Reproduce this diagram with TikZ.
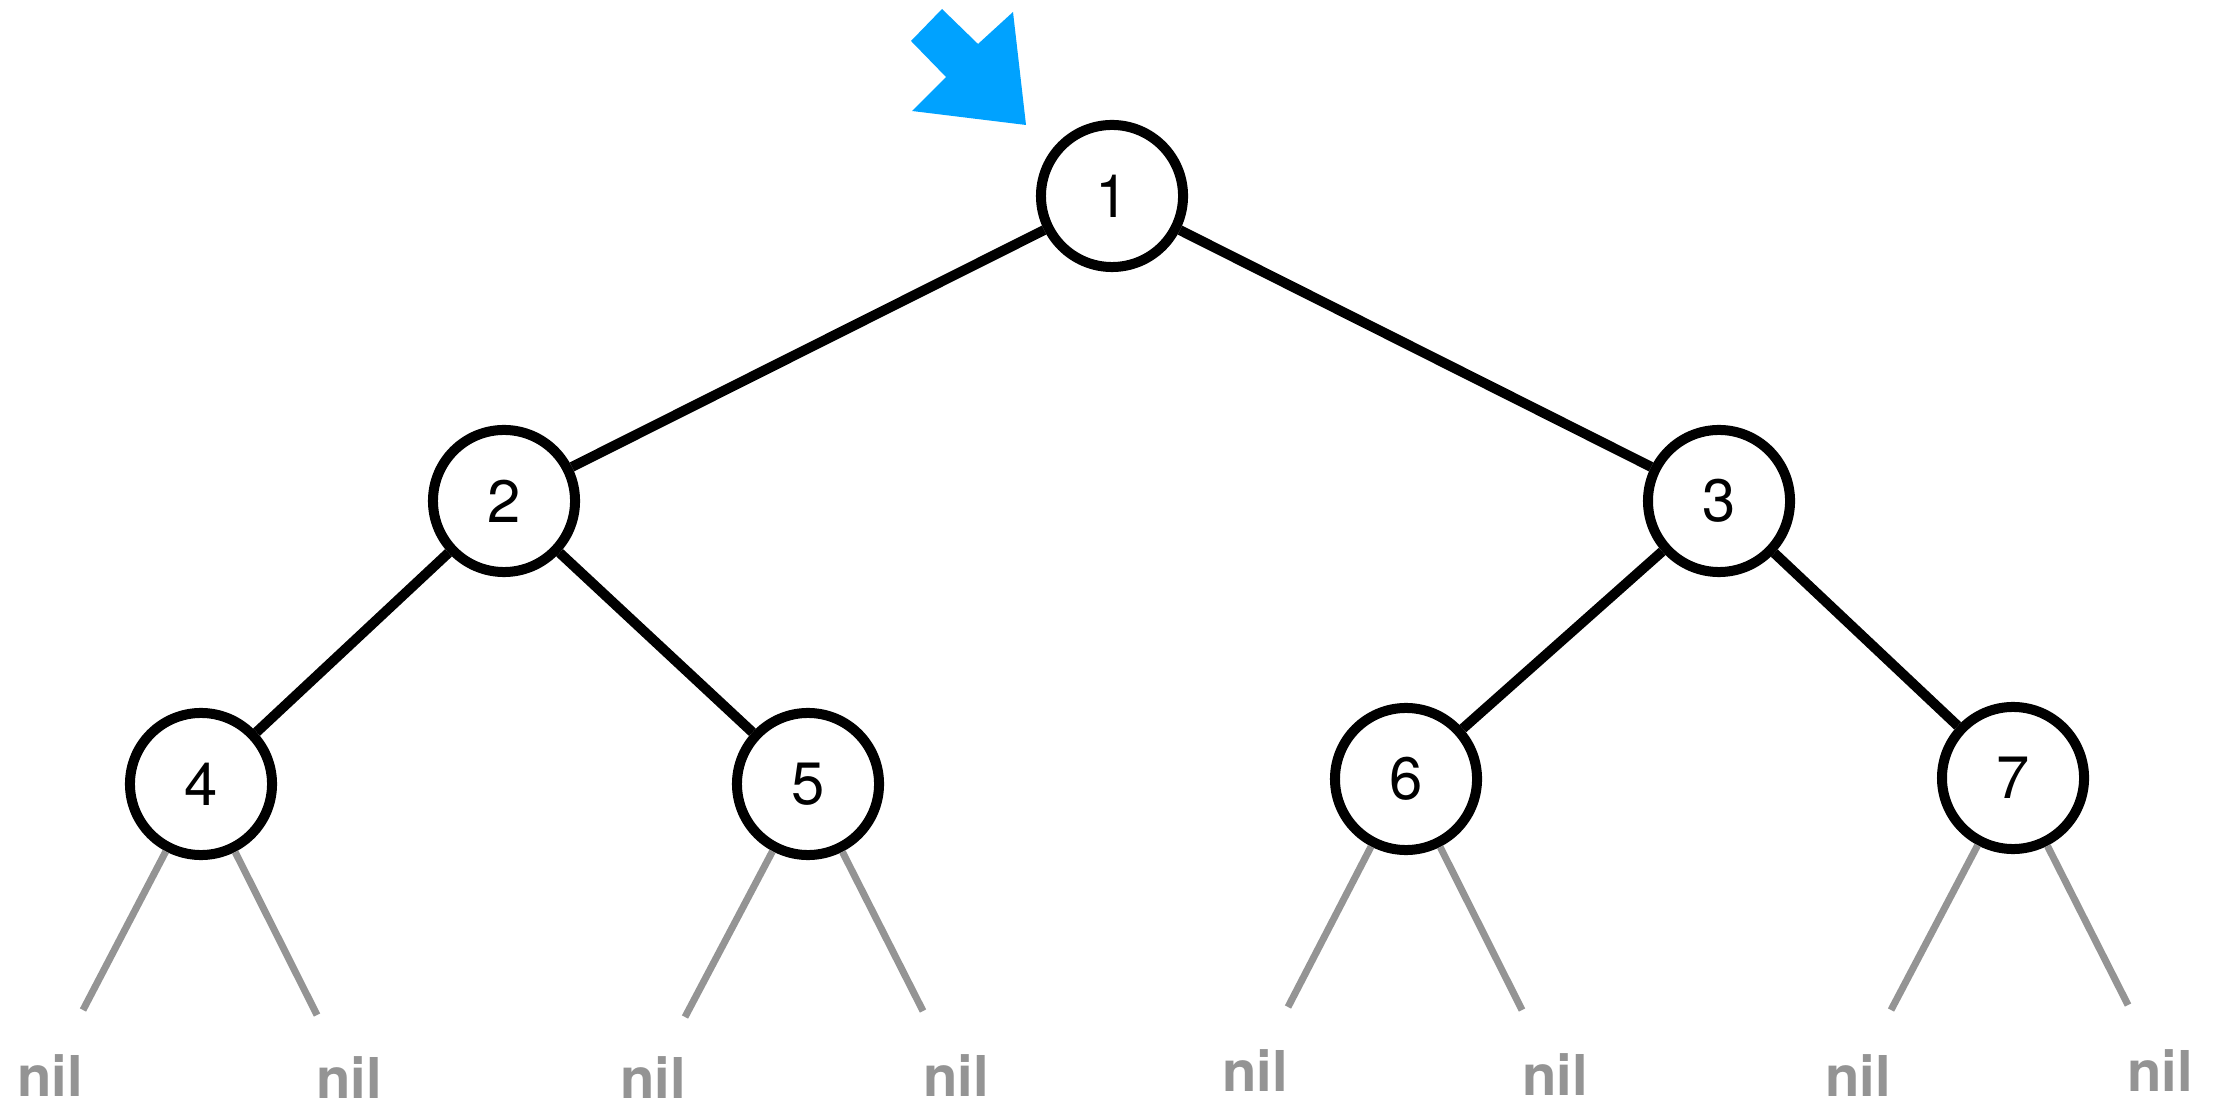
\documentclass[tikz,border=0pt]{standalone}
\usepackage{fontspec}
\setmainfont{TeX Gyre Heros}
\definecolor{pointerblue}{RGB}{0,162,255}
\definecolor{nilgray}{RGB}{148,148,148}

\begin{document}
\begin{tikzpicture}[x=0.01cm,y=-0.01cm,
  keynode/.style={circle,draw,line width=0.1cm,minimum size=1.42cm,inner sep=0pt,
    fill=white,font=\fontsize{17}{20}\selectfont},
  link/.style={line width=0.1cm},
  nillink/.style={draw=nilgray,line width=0.07cm},
  niltext/.style={inner sep=0pt,text=nilgray,font=\fontsize{16}{19}\selectfont\bfseries}]

  \useasboundingbox (0,0) rectangle (2213,1107);

  \fill[pointerblue] (942,9) -- (978,44) -- (1013,12) -- (1026,125)
    -- (912,111) -- (946,77) -- (911,41) -- cycle;

  \node[keynode] (n1) at (1112,196) {1};
  \node[keynode] (n2) at (504,501)  {2};
  \node[keynode] (n3) at (1719,501) {3};
  \node[keynode] (n4) at (201,784)  {4};
  \node[keynode] (n5) at (808,784)  {5};
  \node[keynode] (n6) at (1406,779) {6};
  \node[keynode] (n7) at (2013,778) {7};

  \draw[link] (n1) -- (n2);
  \draw[link] (n1) -- (n3);
  \draw[link] (n2) -- (n4);
  \draw[link] (n2) -- (n5);
  \draw[link] (n3) -- (n6);
  \draw[link] (n3) -- (n7);

  \coordinate (e4l) at (83,1010);
  \coordinate (e4r) at (317,1015);
  \coordinate (e5l) at (685,1017);
  \coordinate (e5r) at (923,1011);
  \coordinate (e6l) at (1288,1007);
  \coordinate (e6r) at (1522,1010);
  \coordinate (e7l) at (1891,1010);
  \coordinate (e7r) at (2128,1005);

  \draw[nillink] (n4) -- (e4l);
  \draw[nillink] (n4) -- (e4r);
  \draw[nillink] (n5) -- (e5l);
  \draw[nillink] (n5) -- (e5r);
  \draw[nillink] (n6) -- (e6l);
  \draw[nillink] (n6) -- (e6r);
  \draw[nillink] (n7) -- (e7l);
  \draw[nillink] (n7) -- (e7r);

  \node[niltext] (nil4l) at (50,1076)   {nil};
  \node[niltext] (nil4r) at (349,1078)  {nil};
  \node[niltext] (nil5l) at (653,1078)  {nil};
  \node[niltext] (nil5r) at (956,1076)  {nil};
  \node[niltext] (nil6l) at (1255,1071) {nil};
  \node[niltext] (nil6r) at (1555,1075) {nil};
  \node[niltext] (nil7l) at (1858,1076) {nil};
  \node[niltext] (nil7r) at (2160,1071) {nil};

\end{tikzpicture}
\end{document}
